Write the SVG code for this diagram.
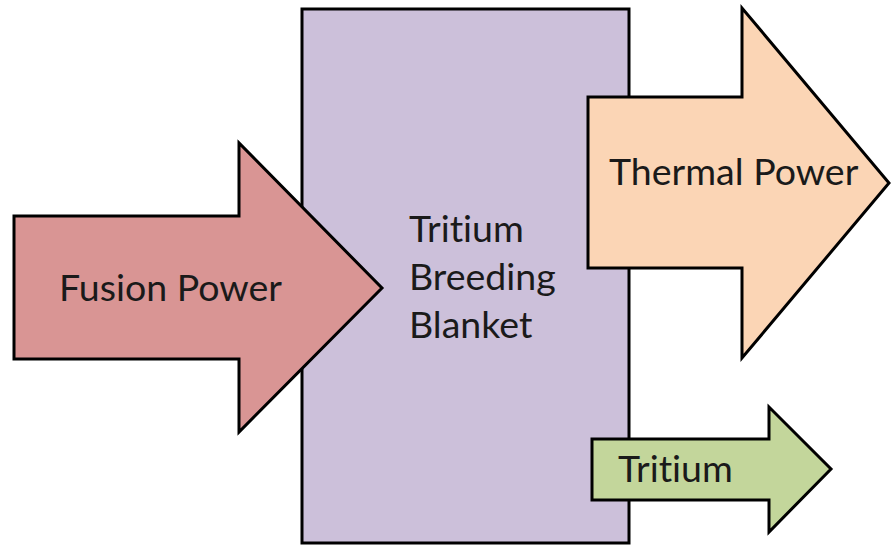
<svg xmlns="http://www.w3.org/2000/svg" width="892" height="548" viewBox="0 0 892 548">
<style>
.shape{stroke:#000;stroke-width:3;stroke-linejoin:miter}
.lbl{font-family:Lato,"Open Sans","Liberation Sans",sans-serif;font-size:37.5px;fill:#1a1a1a;font-variant-ligatures:none;font-feature-settings:"liga" 0,"clig" 0}
</style>
<rect width="892" height="548" fill="#fff"/>
<g id="blanket">
<rect class="shape" x="302" y="9" width="327" height="534" fill="#ccc0da"/>
<text class="lbl" x="409" y="242">Tritium</text>
<text class="lbl" x="409" y="290">Breeding</text>
<text class="lbl" x="409" y="338">Blanket</text>
</g>
<g id="connectors">
<g id="fusion">
<polygon class="shape" fill="#d99594" points="14,216 239,216 239,143 382,288 239,432 239,359 14,359"/>
<text class="lbl" x="59" y="301">Fusion Power</text>
</g>
<g id="thermal">
<polygon class="shape" fill="#fbd5b5" points="588,97 742,97 742,8 889,183 742,358 742,268 588,268"/>
<text class="lbl" x="609" y="185">Thermal Power</text>
</g>
<g id="tritium">
<polygon class="shape" fill="#c3d69b" points="592,439 769,439 769,407 831,469 769,532 769,500 592,500"/>
<text class="lbl" x="618" y="482">Tritium</text>
</g>
</g>
</svg>
